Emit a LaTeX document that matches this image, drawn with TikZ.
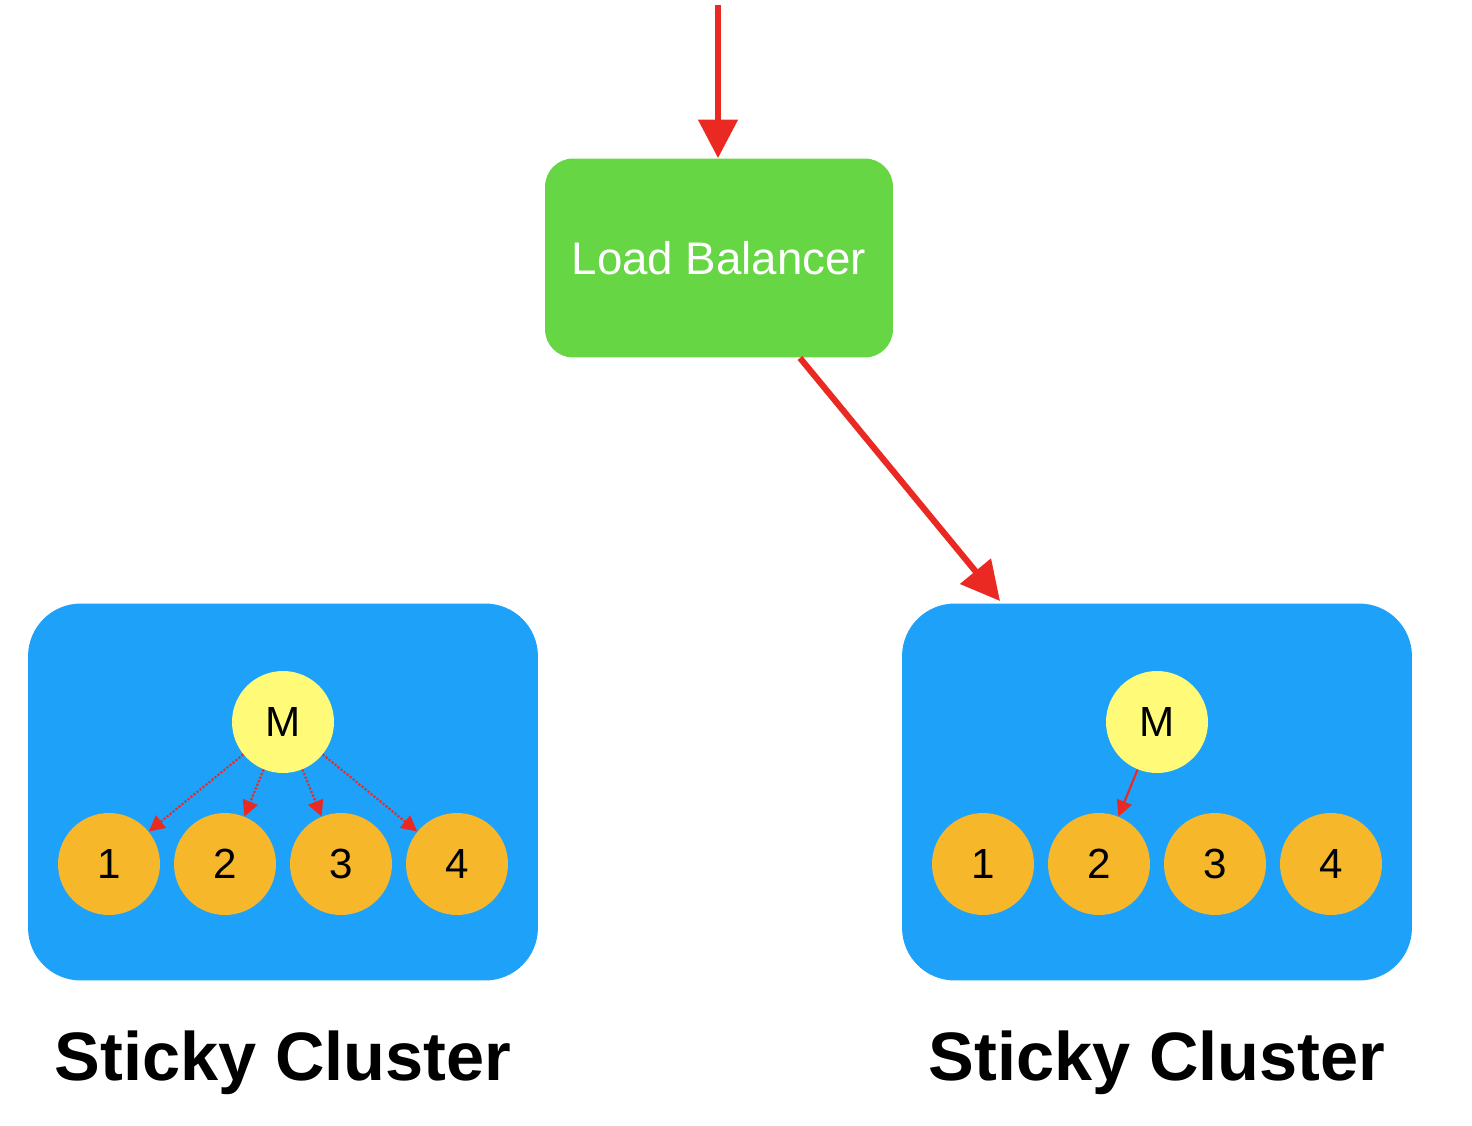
\documentclass[tikz,border=0pt]{standalone}
\usepackage{fontspec}
\setmainfont{Liberation Sans}
\usetikzlibrary{arrows.meta}
\definecolor{lbgreen}{HTML}{66D644}
\definecolor{clblue}{HTML}{1DA1F9}
\definecolor{myellow}{HTML}{FFFB78}
\definecolor{norange}{HTML}{F6B72B}
\definecolor{arred}{HTML}{EA2A22}
\tikzset{
  cluster/.style={fill=clblue, rounded corners=30pt, minimum width=10.2cm, minimum height=7.54cm},
  master/.style={circle, fill=myellow, minimum size=2.04cm, inner sep=0pt, font=\fontsize{24}{26}\selectfont},
  worker/.style={circle, fill=norange, minimum size=2.04cm, inner sep=0pt, font=\fontsize{24}{26}\selectfont},
  bigflow/.style={arred, line width=3.5pt, -{Triangle[length=22pt, width=22pt]}},
  pick/.style={arred, line width=1.2pt, -{Triangle[length=9pt, width=9pt]}},
  title/.style={font=\bfseries\fontsize{39}{42}\selectfont}
}
\begin{document}
\begin{tikzpicture}[x=0.02cm, y=-0.02cm]
    \useasboundingbox (0,0) rectangle (1472,1126);
    % load balancer
    \coordinate (in) at (718,5);
    \node[fill=lbgreen, rounded corners=16pt, minimum width=6.96cm, minimum height=3.98cm,
          text=white, font=\fontsize{26}{28}\selectfont] (lb) at (719,258) {Load Balancer};
    \draw[bigflow] (in) -- (lb.north -| in);

    % clusters
    \node[cluster] (left) at (283,792) {};
    \node[cluster] (right) at (1157,792) {};
    \coordinate (lbout) at (800,358);
    \coordinate (rin) at (1000,601);
    \draw[bigflow] (lbout) -- (rin);

    \node[master] (lm) at (283,722) {M};
    \node[master] (rm) at (1157,722) {M};
    \foreach \i/\x in {1/109, 2/225, 3/341, 4/457} {
      \node[worker] (l\i) at (\x,864) {\i};
      \node[worker] (r\i) at (\x+874,864) {\i};
      \draw[pick, densely dotted] (lm) -- (l\i);
    }
    \draw[pick] (rm) -- (r2);

    \node[title] (lt) at (283,1063) {Sticky Cluster};
    \node[title] (rt) at (1157,1063) {Sticky Cluster};
\end{tikzpicture}
\end{document}
